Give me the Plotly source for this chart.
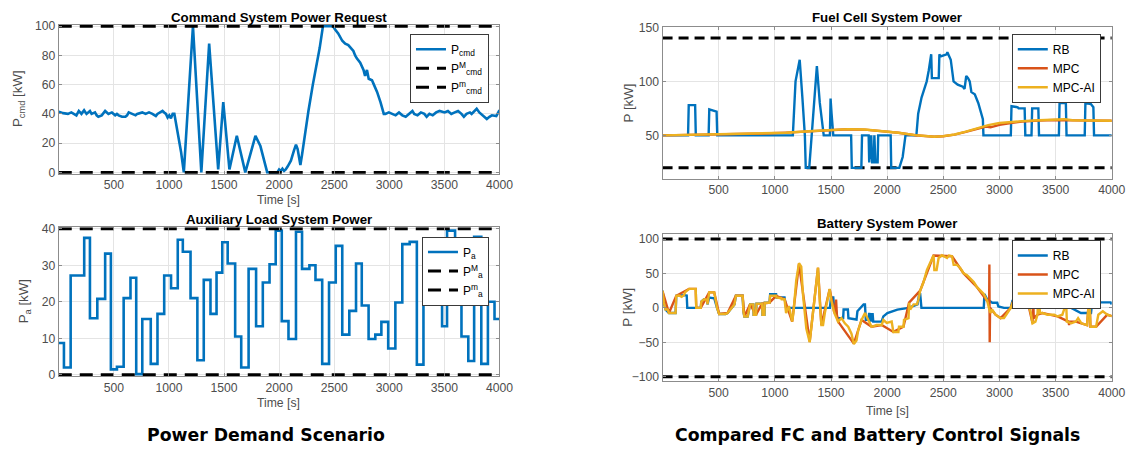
import plotly.graph_objects as go

W, H = 1129, 450

# ---------------- data: command power request (kW) ----------------
pcmd_t = [0, 40, 83, 114, 160, 182, 206, 230, 252, 283, 298, 329, 344, 359, 390, 421, 451, 482, 512, 528,
          543, 574, 605, 620, 635, 666, 697, 712, 758, 788, 819, 850, 881, 896, 927, 942, 957, 973, 988, 1003,
          1018, 1034, 1049, 1080, 1110, 1135, 1218, 1294, 1365, 1447, 1493, 1549, 1616, 1693, 1785, 1830, 1892,
          1984, 2000, 2015, 2030, 2045, 2060, 2077, 2107, 2135, 2153, 2168, 2193, 2208, 2245, 2266, 2306, 2337,
          2368, 2398, 2490, 2505, 2536, 2573, 2600, 2628, 2650, 2674, 2690, 2705, 2736, 2766, 2780, 2797, 2813,
          2843, 2860, 2889, 2920, 2950, 2965, 2996, 3026, 3057, 3088, 3118, 3149, 3180, 3210, 3226, 3256, 3287,
          3318, 3339, 3364, 3394, 3425, 3456, 3502, 3532, 3563, 3594, 3624, 3655, 3677, 3701, 3732, 3747, 3793,
          3817, 3848, 3885, 3909, 3931, 3971, 4000]
pcmd_v = [41.5, 40.5, 40, 41, 39, 42, 40, 42.5, 40, 42, 40, 41, 39, 38, 39, 42, 40, 41, 39, 40,
          39, 38, 38, 39, 41, 40, 39, 40, 41, 40, 41, 40, 38.5, 40, 41, 42, 41, 40, 37.5, 39,
          37, 40, 40, 28, 14, 0, 100, 0, 88, 2, 48, 2, 25, 0, 25, 18, 0,
          0, 2, 1, 2.5, 1, 2, 4, 8, 15, 19, 16, 5, 12, 32, 42, 60, 72,
          85, 100, 100, 98, 95, 90, 88, 87, 85, 83, 80, 78, 75, 70, 66, 70, 64,
          63, 60, 55, 48, 40, 40, 41, 40, 39, 41, 39, 38, 40, 42, 40, 39, 41,
          40, 38, 40, 39, 41, 42, 41, 42, 40, 41, 42, 40, 38, 40, 41, 40, 43.5,
          41, 39, 36.5, 38, 39, 38.5, 42.5]
pcmd_max = 100
pcmd_min = 0

# ---------------- data: auxiliary load power (kW), step starts ----------------
pa_t = [0, 47, 108, 231, 283, 350, 421, 473, 528, 589, 651, 703, 758, 835, 896, 957, 1019, 1080, 1126, 1196,
        1258, 1316, 1377, 1432, 1484, 1533, 1601, 1656, 1723, 1791, 1852, 1913, 1969, 2024, 2085, 2153, 2208,
        2275, 2330, 2391, 2453, 2514, 2573, 2637, 2698, 2750, 2812, 2873, 2928, 2990, 3055, 3118, 3185, 3250,
        3310, 3479, 3524, 3597, 3655, 3717, 3770, 3835, 3895, 3955, 4000]
pa_v = [8.7, 2.0, 27.2, 37.5, 15.5, 20.8, 33.2, 1.5, 2.2, 21.0, 26.6, 0.2, 15.3, 3.0, 16.7, 27.2, 23.7, 37.0, 33.7, 21.0,
        4.0, 26.0, 16.7, 28.0, 36.3, 30.5, 10.5, 2.0, 29.0, 13.3, 25.3, 30.3, 39.5, 14.7, 9.8, 39.2, 29.0,
        30.0, 26.0, 3.0, 25.3, 35.3, 11.0, 17.5, 30.5, 19.0, 9.8, 11.0, 14.5, 7.2, 19.8, 35.8, 36.4, 2.8,
        24.0, 13.3, 39.5, 25.0, 10.5, 3.8, 37.8, 3.0, 20.0, 15.3, 15.3]
pa_max = 40
pa_min = 0

# ---------------- data: fuel cell system power (kW) ----------------
fc_rb_t = [0, 227, 233, 290, 296, 410, 416, 450, 481, 487, 1160, 1184, 1221, 1245, 1267, 1275, 1306, 1335, 1359,
           1374, 1400, 1435, 1490, 1496, 1505, 1520, 1679, 1685, 1770, 1776, 1835, 1840, 1846, 1852, 1858, 1866,
           1880, 1886, 1895, 1915, 1920, 2031, 2036, 2108, 2138, 2163, 2260, 2276, 2306, 2352, 2370, 2392, 2398,
           2459, 2465, 2474, 2530, 2536, 2566, 2580, 2591, 2628, 2674, 2689, 2704, 2720, 2735, 2750, 2780, 2811,
           2842, 2852, 2857, 3101, 3107, 3162, 3170, 3224, 3230, 3285, 3291, 3346, 3352, 3529, 3535, 3591, 3597,
           3759, 3765, 3814, 3836, 3842, 4000]
fc_rb_v = [50, 50, 78, 78, 50, 50, 74, 73, 72, 50, 50, 100, 120, 85, 50, 20, 20, 60, 100,
           114, 80, 50, 50, 84, 70, 50, 50, 20, 20, 50, 50, 25, 50, 28, 50, 25,
           25, 50, 25, 25, 50, 50, 20, 20, 30, 50, 50, 70, 85, 100, 110, 125, 103,
           103, 125, 123, 125, 127, 120, 110, 100, 97, 95, 93, 105, 103, 100, 90, 88, 80,
           70, 65, 50, 50, 77, 76, 75, 75, 50, 50, 75, 75, 50, 50, 80, 80, 50,
           50, 80, 79, 76, 50, 50]
fc_mpc_t = [0, 300, 600, 900, 1100, 1300, 1500, 1650, 1800, 1950, 2100, 2250, 2350, 2420, 2500, 2600, 2700,
            2800, 2880, 2920, 3000, 3100, 3200, 3350, 3500, 3650, 3800, 4000]
fc_mpc_v = [50, 50.4, 51, 51.7, 52.6, 53.9, 55.1, 55.7, 55.3, 54.1, 52.4, 50.2, 49.1, 48.7, 49.2, 50.7, 53.3,
            56.2, 58.2, 57.5, 59.8, 61.5, 62.7, 63.8, 64.2, 63.9, 63.5, 63.5]
fc_ai_t = [0, 300, 600, 900, 1100, 1300, 1500, 1650, 1800, 1950, 2100, 2250, 2350, 2420, 2500, 2600, 2700,
           2800, 2900, 3000, 3100, 3200, 3350, 3500, 3580, 3650, 3800, 4000]
fc_ai_v = [50, 50.5, 51, 51.7, 52.5, 53.8, 55.2, 55.8, 55.4, 54.2, 52.5, 50.3, 49.2, 48.8, 49.3, 50.8, 53.5,
           56.5, 59.5, 61.5, 62.5, 63.2, 64.0, 64.3, 65.0, 64.0, 63.6, 63.6]
fc_max = 140
fc_min = 20

# ---------------- data: battery system power (kW) ----------------
bat_rb_t = [0, 12, 27, 57, 116, 122, 191, 215, 220, 295, 340, 345, 370, 395, 400, 415, 460, 485, 504, 560,
            579, 600, 640, 653, 713, 720, 728, 758, 765, 779, 808, 811, 832, 836, 886, 890, 907, 910, 952, 958,
            1011, 1015, 1086, 1100, 1490, 1500, 1520, 1530, 1540, 1555, 1608, 1612, 1650, 1655, 1727, 1735,
            1790, 1802, 1810, 1832, 1840, 1850, 1856, 1862, 1870, 1876, 1906, 1950, 1966, 2002, 2091, 2190,
            2230, 2270, 2285, 2294, 2305, 2860, 2866, 2890, 2936, 2980, 2990, 3040, 3100, 3115, 3278, 3285,
            3368, 3375, 3517, 3520, 3580, 3640, 3725, 3815, 3820, 3880, 3890, 3990, 4000]
bat_rb_v = [25, 7.5, -2.5, -7.5, -7.5, 17.5, 18.5, 18, 0, 0, 0, 9, 12.5, 12, 5, 15, 14, 0, -9, -9,
            -7.5, -3, 5, 17.5, 17.5, -5, -12.5, -12.5, -8, 5, 5, -10, -10, 6, 6, -10, -10, 7.5, 7.5, 20,
            20, 15, 15, 0, 0, 15, 15, -5, 0, -15, -15, -2.5, -2.5, -15, -17, -5,
            5, 5, -17.5, -17.5, -7.5, -20, -7.5, -20, -7.5, -20, -20, -20, -12.5, -7.5, -2.5, 0,
            2.5, 5, 20, 20, 0, 0, 20, 12.5, 7.5, 7.5, 2, 0, 0, 10, 10, 0,
            0, 12.5, 12.5, 7.5, 5, 0, -7.5, -7.5, 0, 0, 8, 8, 5]
bat_mpc_t = [0, 57, 122, 236, 295, 300, 340, 415, 460, 504, 579, 653, 713, 728, 779, 832, 886, 952, 1011,
             1086, 1154, 1215, 1310, 1384, 1414, 1488, 1530, 1545, 1552, 1563, 1703, 1772, 1861, 1951, 2055,
             2145, 2195, 2294, 2413, 2488, 2577, 2681, 2800, 2891, 2908, 2910, 2913, 2916, 2965, 3010, 3100,
             3129, 3250, 3294, 3300, 3305, 3338, 3383, 3517, 3615, 3620, 3625, 3680, 3780, 3800, 3810, 3860,
             3960, 4000]
bat_mpc_v = [24, -7.5, 17.5, 27.5, 27.5, 0, 0, 22.5, 22.5, -9, -7.5, 17.5, 17.5, -12.5, 5, -10, 6, 7.5, 17.5,
             12.5, -20, 64, -49, 58, -25, 27, -7.5, 12, -10, -20, -52, -17.5, -27.5, -25, -35,
             -27.5, 7.5, 25, 76, 76, 75, 50, 30, 10, 10, 63, -50, 0, -10, -15, 0,
             12.5, 10, -22.5, 15, -15, -10, -7.5, -12.5, -20, -25, -20, -20, -25, 20, -27.5, -27.5,
             -10, -12]
bat_ai_t = [0, 12, 27, 45, 57, 116, 122, 146, 170, 191, 200, 236, 295, 300, 340, 345, 370, 395, 400, 415,
            460, 465, 485, 504, 560, 579, 600, 640, 653, 713, 720, 728, 758, 765, 779, 808, 811, 832, 836, 886,
            890, 907, 910, 952, 958, 1011, 1015, 1056, 1060, 1086, 1100, 1125, 1154, 1165, 1190, 1215, 1235,
            1250, 1280, 1310, 1340, 1384, 1400, 1414, 1429, 1445, 1488, 1500, 1530, 1563, 1593, 1623, 1653,
            1682, 1703, 1727, 1742, 1772, 1802, 1832, 1861, 1906, 1951, 1966, 1996, 2040, 2055, 2100, 2105,
            2145, 2150, 2190, 2195, 2205, 2235, 2265, 2279, 2294, 2324, 2354, 2384, 2413, 2420, 2440, 2458,
            2488, 2533, 2550, 2577, 2592, 2622, 2652, 2681, 2711, 2741, 2771, 2800, 2830, 2860, 2876, 2891,
            2906, 2920, 2935, 2965, 3010, 3040, 3070, 3100, 3129, 3160, 3190, 3220, 3250, 3279, 3294, 3320,
            3338, 3350, 3360, 3383, 3428, 3487, 3517, 3560, 3580, 3590, 3600, 3640, 3680, 3700, 3730, 3780,
            3800, 3810, 3860, 3880, 3920, 3960, 4000]
bat_ai_v = [25, 7.5, -2.5, -2.5, -7.5, -7.5, 17.5, 18, 16, 18.5, 22.5, 27.5, 27.5, 0, 0, 9, 12.5, 12, 5, 22.5,
            22.5, 17.5, 0, -9, -9, -7.5, -3, 5, 17.5, 17.5, -5, -12.5, -12.5, -8, 5, 5, -10, -10, 6, 6,
            -10, -10, 7.5, 7.5, 17.5, 17.5, 15, 14, 12.5, 12.5, -7.5, 2.5, -20, -7.5, 40, 65, 60,
            20, -30, -50, -5, 58.5, 10, -25, -25, -7.5, 27.5, 12.5, -7.5, -20, -15, -22.5, -27.5,
            -37.5, -52.5, -47.5, -32.5, -17.5, -7.5, -17.5, -27.5, -25, -25, -17.5, -22, -20, -35, -35, -27.5,
            -27.5, -17.5, -15, 7.5, -2.5, 5, 5, 12.5, 25, 37.5, 55, 65, 76.5, 55, 55, 72.5,
            76.5, 72.5, 76, 75, 62.5, 62.5, 57.5, 50, 47.5, 42.5, 37.5, 30, 25, 20, 15, 10,
            0, -7.5, -2.5, -10, -15, -15, -7.5, 0, 12.5, 10, 10, 5, 10, -7.5, -22.5, -20,
            -10, 30, -7.5, -7.5, -10, -10, -12.5, -10, 0, 25, -20, -22.5, -20, -15, -22.5, -25,
            20, -27.5, -27.5, -10, -5, -10, -12]
bat_max = 100
bat_min = -100

x_ticks = [500, 1000, 1500, 2000, 2500, 3000, 3500, 4000]

# ---------------- styling ----------------
BLUE = '#0072BD'
RED = '#D95319'
YELLOW = '#EDB120'
FONT = 'Liberation Sans, Arial, sans-serif'
CAP_FONT = 'DejaVu Sans, sans-serif'
DASH_L = '13px,8px'
DASH_R = '10px,6px'

# The photographed page comes out slightly shrunk and shifted; layout positions below are
# given as wanted picture pixels and converted back to figure pixels here.
SX, OX = 0.9871, -0.23
SY, OY = 0.970, 6.25


def fx(px):
    return (px - OX) / SX


def fy(py):
    return (py - OY) / SY


def dom_x(a, b):
    return [fx(a) / W, fx(b) / W]


def dom_y(top, bottom):
    return [1 - fy(bottom) / H, 1 - fy(top) / H]


fig = go.Figure()

# top-left
fig.add_trace(go.Scatter(x=pcmd_t, y=pcmd_v, mode='lines', name='P<sub>cmd</sub>',
                         line=dict(color=BLUE, width=2.6), xaxis='x', yaxis='y', legend='legend'))
fig.add_trace(go.Scatter(x=[pcmd_t[0], pcmd_t[-1]], y=[pcmd_max, pcmd_max], mode='lines',
                         name='P<sup>M</sup><sub>cmd</sub>',
                         line=dict(color='black', width=3, dash=DASH_L), xaxis='x', yaxis='y', legend='legend'))
fig.add_trace(go.Scatter(x=[pcmd_t[0], pcmd_t[-1]], y=[pcmd_min, pcmd_min], mode='lines',
                         name='P<sup>m</sup><sub>cmd</sub>',
                         line=dict(color='black', width=3, dash=DASH_L), xaxis='x', yaxis='y', legend='legend'))

# bottom-left
fig.add_trace(go.Scatter(x=pa_t, y=pa_v, mode='lines', name='P<sub>a</sub>', line_shape='hv',
                         line=dict(color=BLUE, width=2.6), xaxis='x2', yaxis='y2', legend='legend2'))
fig.add_trace(go.Scatter(x=[pa_t[0], pa_t[-1]], y=[pa_max, pa_max], mode='lines',
                         name='P<sup>M</sup><sub>a</sub>',
                         line=dict(color='black', width=3, dash=DASH_L), xaxis='x2', yaxis='y2', legend='legend2'))
fig.add_trace(go.Scatter(x=[pa_t[0], pa_t[-1]], y=[pa_min, pa_min], mode='lines',
                         name='P<sup>m</sup><sub>a</sub>',
                         line=dict(color='black', width=3, dash=DASH_L), xaxis='x2', yaxis='y2', legend='legend2'))

# top-right
for lim in (fc_max, fc_min):
    fig.add_trace(go.Scatter(x=[fc_rb_t[0], fc_rb_t[-1]], y=[lim, lim], mode='lines', showlegend=False,
                             line=dict(color='black', width=3, dash=DASH_R), xaxis='x3', yaxis='y3',
                             hoverinfo='skip'))
fig.add_trace(go.Scatter(x=fc_rb_t, y=fc_rb_v, mode='lines', name='RB',
                         line=dict(color=BLUE, width=2.4), xaxis='x3', yaxis='y3', legend='legend3'))
fig.add_trace(go.Scatter(x=fc_mpc_t, y=fc_mpc_v, mode='lines', name='MPC',
                         line=dict(color=RED, width=2.4), xaxis='x3', yaxis='y3', legend='legend3'))
fig.add_trace(go.Scatter(x=fc_ai_t, y=fc_ai_v, mode='lines', name='MPC-AI',
                         line=dict(color=YELLOW, width=2.4), xaxis='x3', yaxis='y3', legend='legend3'))

# bottom-right
for lim in (bat_max, bat_min):
    fig.add_trace(go.Scatter(x=[bat_rb_t[0], bat_rb_t[-1]], y=[lim, lim], mode='lines', showlegend=False,
                             line=dict(color='black', width=3, dash=DASH_R), xaxis='x4', yaxis='y4',
                             hoverinfo='skip'))
fig.add_trace(go.Scatter(x=bat_rb_t, y=bat_rb_v, mode='lines', name='RB',
                         line=dict(color=BLUE, width=2.4), xaxis='x4', yaxis='y4', legend='legend4'))
fig.add_trace(go.Scatter(x=bat_mpc_t, y=bat_mpc_v, mode='lines', name='MPC',
                         line=dict(color=RED, width=2.4), xaxis='x4', yaxis='y4', legend='legend4'))
fig.add_trace(go.Scatter(x=bat_ai_t, y=bat_ai_v, mode='lines', name='MPC-AI',
                         line=dict(color=YELLOW, width=2.4), xaxis='x4', yaxis='y4', legend='legend4'))


def axis_style():
    return dict(showgrid=True, gridcolor='#e4e4e4', gridwidth=1, zeroline=False,
                showline=True, linecolor='#8c8c8c', linewidth=1, mirror='ticks',
                ticks='inside', ticklen=3, tickcolor='#8c8c8c',
                tickfont=dict(family=FONT, size=12.2, color='#4d4d4d'))


def xax(domain, anchor):
    d = axis_style()
    d.update(domain=domain, anchor=anchor, range=[0, 4000], tickvals=x_ticks)
    return d


def yax(domain, anchor, rng, tv):
    d = axis_style()
    d.update(domain=domain, anchor=anchor, range=rng, tickvals=tv)
    return d


LX = dom_x(58.5, 499)
RX = dom_x(662, 1111)


def legend_at(right_px, top_px):
    return dict(x=fx(right_px) / W, y=1 - fy(top_px) / H, xanchor='right', yanchor='top',
                bgcolor='white', bordercolor='#3a3a3a', borderwidth=1,
                font=dict(family=FONT, size=12, color='black'), tracegroupgap=0, itemwidth=30)


def ann(text, xpx, ypx, size=12, bold=False, color='#262626', angle=0, family=FONT):
    t = f'<b>{text}</b>' if bold else text
    return dict(text=t, x=fx(xpx) / W, y=1 - fy(ypx) / H, xref='paper', yref='paper',
                xanchor='center', yanchor='middle', showarrow=False, textangle=angle,
                font=dict(family=family, size=size, color=color))


annotations = [
    ann('Command System Power Request', 278.5, 16.5, size=13.3, bold=True, color='black'),
    ann('Auxiliary Load System Power', 278.5, 218.5, size=13.3, bold=True, color='black'),
    ann('Fuel Cell System Power', 886.5, 16.5, size=13.3, bold=True, color='black'),
    ann('Battery System Power', 886.5, 223, size=13.3, bold=True, color='black'),
    ann('Time [s]', 278.5, 199, size=12.2, color='#4d4d4d'),
    ann('Time [s]', 278.5, 402, size=12.2, color='#4d4d4d'),
    ann('Time [s]', 886.5, 410, size=12.2, color='#4d4d4d'),
    ann('P<sub>cmd</sub> [kW]', 19, 98, size=13.3, color='#4d4d4d', angle=-90),
    ann('P<sub>a</sub> [kW]', 24, 300, size=13.3, color='#4d4d4d', angle=-90),
    ann('P [kW]', 628, 102, size=13.3, color='#4d4d4d', angle=-90),
    ann('P [kW]', 627, 306, size=13.3, color='#4d4d4d', angle=-90),
    ann('Power Demand Scenario', 266, 434, size=17.3, bold=True, color='black', family=CAP_FONT),
    ann('Compared FC and Battery Control Signals', 877, 434, size=17.3, bold=True, color='black',
        family=CAP_FONT),
]

fig.update_layout(
    width=W, height=H,
    margin=dict(l=0, r=0, t=0, b=0),
    paper_bgcolor='white', plot_bgcolor='white',
    xaxis=xax(LX, 'y'),
    yaxis=yax(dom_y(23.9, 172.9), 'x', [-1.0, 101.0], [0, 20, 40, 60, 80, 100]),
    xaxis2=xax(LX, 'y2'),
    yaxis2=yax(dom_y(226.3, 375.1), 'x2', [-0.4, 40.4], [0, 10, 20, 30, 40]),
    xaxis3=xax(RX, 'y3'),
    yaxis3=yax(dom_y(26.5, 177.7), 'x3', [10, 150], [50, 100, 150]),
    xaxis4=xax(RX, 'y4'),
    yaxis4=yax(dom_y(233.2, 380.3), 'x4', [-107, 107], [-100, -50, 0, 50, 100]),
    legend=legend_at(488.5, 33),
    legend2=legend_at(488.5, 235.5),
    legend3=legend_at(1100, 33),
    legend4=legend_at(1100, 239),
    annotations=annotations,
    showlegend=True,
)

PAGE_FIX = (
    "var s='margin:0;padding:0;overflow:hidden;width:1129px;height:450px;';"
    "document.documentElement.style.cssText=s;document.body.style.cssText=s;"
    "var d=document.getElementById('{plot_id}');"
    "if(d){d.style.position='fixed';d.style.left='0px';d.style.top='0px';}"
)

fig.write_html('out.html', config={'displayModeBar': False}, post_script=PAGE_FIX)
